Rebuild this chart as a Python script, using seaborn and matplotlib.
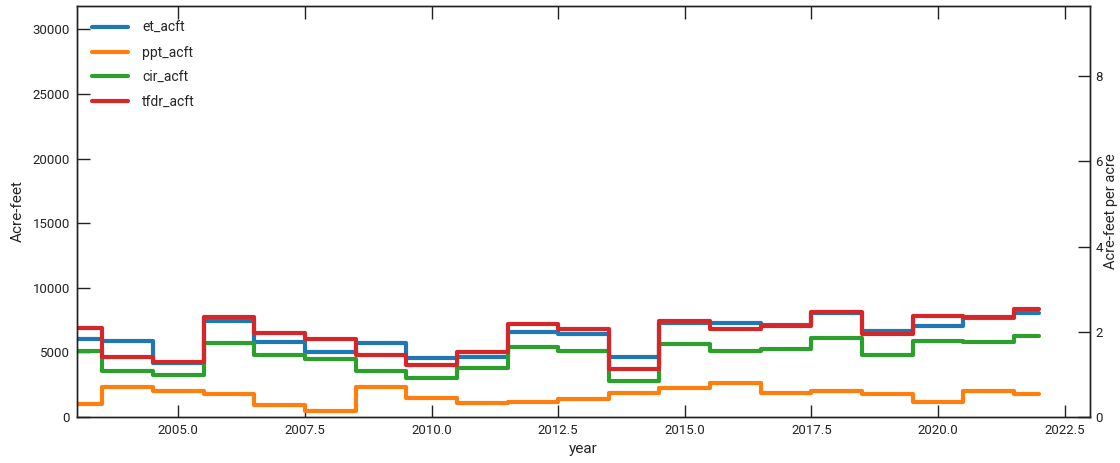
import matplotlib
matplotlib.use("Agg")
import matplotlib.pyplot as plt
import seaborn as sns
import pandas as pd

# Annual water budget, acre-feet
years = list(range(2003, 2023))
et_acft = [6000, 5880, 4200, 7450, 5800, 5000, 5750, 4540, 4670, 6550,
           6390, 4670, 7290, 7240, 7150, 8080, 6650, 7060, 7690, 8020]
ppt_acft = [1000, 2350, 2040, 1780, 900, 490, 2350, 1440, 1110, 1190,
            1370, 1880, 2220, 2600, 1880, 2040, 1750, 1190, 2040, 1780]
cir_acft = [5130, 3580, 3250, 5750, 4790, 4460, 3580, 2990, 3760, 5440,
            5100, 2810, 5620, 5130, 5230, 6130, 4790, 5900, 5770, 6260]
tfdr_acft = [6860, 4670, 4250, 7710, 6470, 6000, 4790, 4020, 5000, 7190,
             6780, 3690, 7420, 6780, 7040, 8090, 6390, 7840, 7710, 8330]

series_names = ["et_acft", "ppt_acft", "cir_acft", "tfdr_acft"]
series_values = [et_acft, ppt_acft, cir_acft, tfdr_acft]
palette = ["#1f77b4", "#ff7f0e", "#2ca02c", "#d62728"]

left_max = 31800
right_max = 9.65

rows = []
for name, vals in zip(series_names, series_values):
    for y, v in zip(years, vals):
        rows.append({"year": y, "value": v, "series": name})
df = pd.DataFrame(rows)

sns.set_theme(style="ticks")
plt.rcParams["font.family"] = ["Liberation Sans Narrow", "Roboto", "DejaVu Sans"]
plt.rcParams["axes.edgecolor"] = "#222222"

fig = plt.figure(figsize=(11.2, 4.63), dpi=100)
ax = fig.add_axes([0.0688, 0.0994, 0.9044, 0.8876])

sns.lineplot(data=df, x="year", y="value", hue="series", hue_order=series_names,
             palette=palette, drawstyle="steps-mid", linewidth=3, ax=ax)

ax.set_xlim(2003, 2023)
ax.set_ylim(0, left_max)
ax.set_xticks([2005.0, 2007.5, 2010.0, 2012.5, 2015.0, 2017.5, 2020.0, 2022.5])
ax.set_xticklabels([f"{t:.1f}" for t in ax.get_xticks()])
ax.set_yticks([0, 5000, 10000, 15000, 20000, 25000, 30000])
ax.set_xlabel("year", fontsize=11, labelpad=4)
ax.set_ylabel("Acre-feet", fontsize=11, labelpad=6)
ax.tick_params(axis="both", direction="in", length=9, width=1, labelsize=9.5,
               colors="#222222", top=True, right=False, pad=5)

ax2 = ax.twinx()
ax2.set_ylim(0, right_max)
ax2.set_yticks([0, 2, 4, 6, 8])
ax2.set_ylabel("Acre-feet per acre", fontsize=10.5, labelpad=1)
ax2.tick_params(axis="y", direction="in", length=9, width=1, labelsize=9.5,
                colors="#222222", pad=4)

for a in (ax, ax2):
    for s in a.spines.values():
        s.set_visible(True)
        s.set_linewidth(1)
        s.set_color("#222222")

leg = ax.legend(loc="upper left", frameon=False, fontsize=10, handlelength=2.6,
                labelspacing=0.75, borderaxespad=0.7, handletextpad=1.0)
for line in leg.get_lines():
    line.set_linewidth(3)

fig.savefig("out.png", dpi=100)
